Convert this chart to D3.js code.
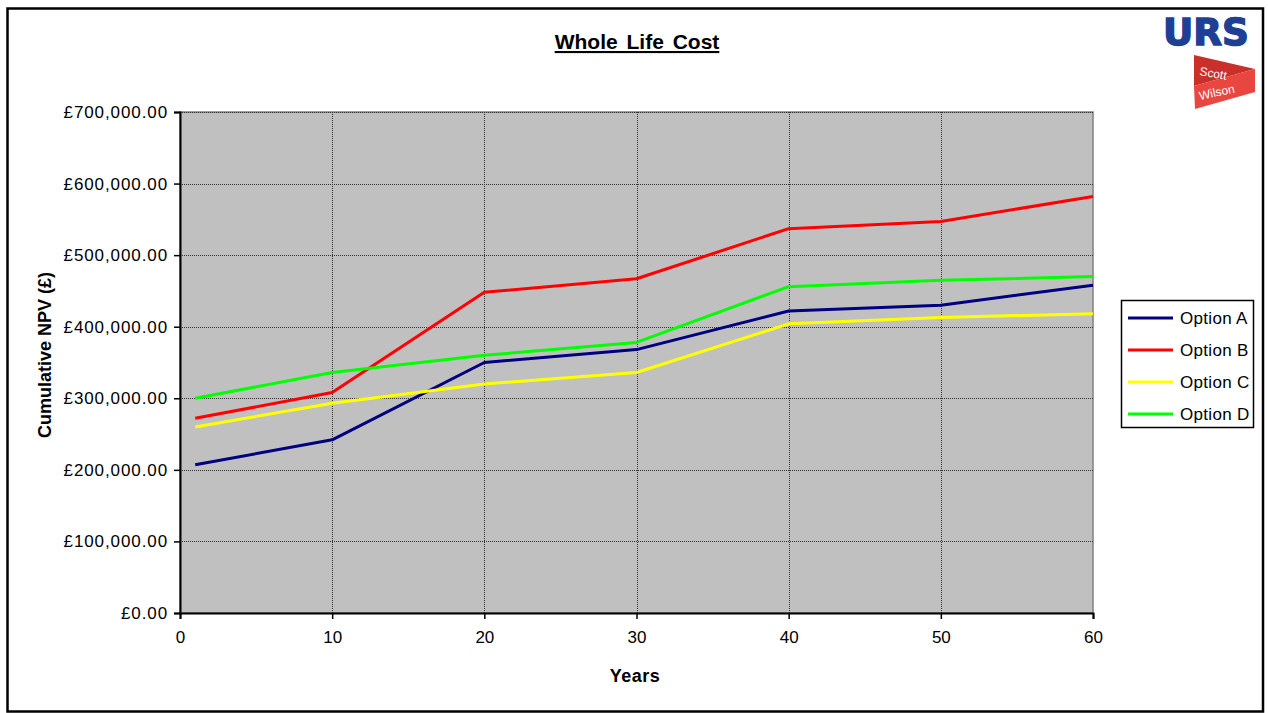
<!DOCTYPE html>
<html>
<head>
<meta charset="utf-8">
<script src="https://cdn.jsdelivr.net/npm/d3@7"></script>
<style>
  html, body { margin: 0; padding: 0; background: #fff; }
  svg { display: block; font-family: "Liberation Sans", Arial, sans-serif; }
</style>
</head>
<body>
<svg id="chart" width="1268" height="713"></svg>
<script>
// Whole life cost, cumulative NPV per option
const years = [1, 10, 20, 30, 40, 50, 60];
const optionA = [207000, 242000, 350000, 368000, 422000, 430000, 458000];
const optionB = [272000, 308000, 448000, 467000, 537000, 547000, 582000];
const optionC = [260000, 293000, 320000, 336000, 404000, 413000, 418000];
const optionD = [300000, 336000, 360000, 378000, 456000, 465000, 470000];
const seriesNames = ["Option A", "Option B", "Option C", "Option D"];
const seriesColors = ["#000080", "#ff0000", "#ffff00", "#00ff00"];
const xTicks = [0, 10, 20, 30, 40, 50, 60];
const yTicks = [0, 100000, 200000, 300000, 400000, 500000, 600000, 700000];

const series = [optionA, optionB, optionC, optionD].map((vals, i) => ({
  name: seriesNames[i],
  color: seriesColors[i],
  points: years.map((y, j) => ({ year: y, value: vals[j] }))
}));

const svg = d3.select("#chart");
const plot = { left: 180, right: 1093, top: 112, bottom: 613 };

const x = d3.scaleLinear().domain([0, 60]).range([plot.left, plot.right]);
const y = d3.scaleLinear().domain([0, 700000]).range([plot.bottom, plot.top]);

// outer frame
svg.append("rect")
  .attr("x", 7.5).attr("y", 8.5).attr("width", 1255.5).attr("height", 703)
  .attr("fill", "none").attr("stroke", "#000").attr("stroke-width", 2.5);

// plot area
svg.append("rect")
  .attr("x", plot.left).attr("y", plot.top)
  .attr("width", plot.right - plot.left).attr("height", plot.bottom - plot.top)
  .attr("fill", "#c0c0c0").attr("stroke", "#808080").attr("stroke-width", 1.5);

// gridlines
const grid = svg.append("g").attr("stroke", "#333").attr("stroke-width", 1)
  .attr("stroke-dasharray", "1,1").attr("shape-rendering", "crispEdges");
grid.selectAll("line.h").data(yTicks.filter(d => d > 0)).join("line")
  .attr("x1", plot.left).attr("x2", plot.right)
  .attr("y1", d => Math.round(y(d)) + 0.5).attr("y2", d => Math.round(y(d)) + 0.5);
grid.selectAll("line.v").data(xTicks.filter(d => d > 0 && d < 60)).join("line")
  .attr("y1", plot.top).attr("y2", plot.bottom)
  .attr("x1", d => Math.round(x(d)) + 0.5).attr("x2", d => Math.round(x(d)) + 0.5);

// axes
const fmt = d => "£" + d3.format(",.2f")(d);
const yAxis = svg.append("g")
  .attr("transform", `translate(${plot.left},0)`)
  .call(d3.axisLeft(y).tickValues(yTicks).tickFormat(fmt).tickSize(6).tickPadding(6));
const xAxis = svg.append("g")
  .attr("transform", `translate(0,${plot.bottom})`)
  .call(d3.axisBottom(x).tickValues(xTicks).tickSize(6).tickPadding(12));
[xAxis, yAxis].forEach(a => {
  a.select(".domain").attr("stroke", "#000").attr("stroke-width", 2);
  a.selectAll(".tick line").attr("stroke", "#000").attr("stroke-width", 1.5);
  a.selectAll(".tick text").attr("fill", "#000")
    .style("font-family", "'Liberation Sans', Arial, sans-serif").style("font-size", "17px");
});
yAxis.selectAll(".tick text").attr("letter-spacing", 0.9);

// series lines
const line = d3.line().x(d => x(d.year)).y(d => y(d.value));
svg.append("g").selectAll("path").data(series).join("path")
  .attr("d", d => line(d.points))
  .attr("fill", "none")
  .attr("stroke", d => d.color)
  .attr("stroke-width", 3)
  .attr("stroke-linejoin", "round");

// title
svg.append("text")
  .attr("x", 637).attr("y", 49)
  .attr("text-anchor", "middle")
  .attr("font-size", 21).attr("font-weight", "bold")
  .attr("text-decoration", "underline")
  .attr("word-spacing", 3)
  .text("Whole Life Cost");

// axis titles
svg.append("text")
  .attr("x", 635).attr("y", 682)
  .attr("text-anchor", "middle")
  .attr("font-size", 18).attr("font-weight", "bold")
  .attr("letter-spacing", 0.5)
  .text("Years");
svg.append("text")
  .attr("transform", "translate(51,355) rotate(-90)")
  .attr("text-anchor", "middle")
  .attr("font-size", 18).attr("font-weight", "bold")
  .text("Cumulative NPV (£)");

// legend
const legend = svg.append("g");
legend.append("rect")
  .attr("x", 1121.5).attr("y", 300.5).attr("width", 132).attr("height", 127)
  .attr("fill", "#fff").attr("stroke", "#000").attr("stroke-width", 1.5);
const items = legend.selectAll("g.item").data(series).join("g")
  .attr("transform", (d, i) => `translate(0,${318 + i * 32})`);
items.append("line")
  .attr("x1", 1128).attr("x2", 1173).attr("y1", 0).attr("y2", 0)
  .attr("stroke", d => d.color).attr("stroke-width", 3);
items.append("text")
  .attr("x", 1180).attr("y", 6)
  .attr("font-size", 17)
  .attr("letter-spacing", 0.3)
  .text(d => d.name);

// URS / Scott Wilson logos
svg.append("text")
  .attr("x", 1163).attr("y", 45)
  .attr("font-family", "'DejaVu Sans', sans-serif")
  .attr("font-weight", "bold")
  .attr("font-size", 38)
  .attr("textLength", 86).attr("lengthAdjust", "spacingAndGlyphs")
  .attr("fill", "#1f3f95").attr("stroke", "#1f3f95").attr("stroke-width", 1.5)
  .text("URS");
const flag = svg.append("g");
flag.append("polygon")
  .attr("points", "1194,55 1255,69 1194,86")
  .attr("fill", "#c9302c");
flag.append("polygon")
  .attr("points", "1194,86 1255,69 1255,92 1195,109")
  .attr("fill", "#e8463e");
flag.append("text")
  .attr("transform", "translate(1199,75) rotate(10)")
  .attr("font-size", 12).attr("fill", "#fff")
  .text("Scott");
flag.append("text")
  .attr("transform", "translate(1200,100) rotate(-12)")
  .attr("font-size", 12).attr("fill", "#fff")
  .text("Wilson");
</script>
</body>
</html>
